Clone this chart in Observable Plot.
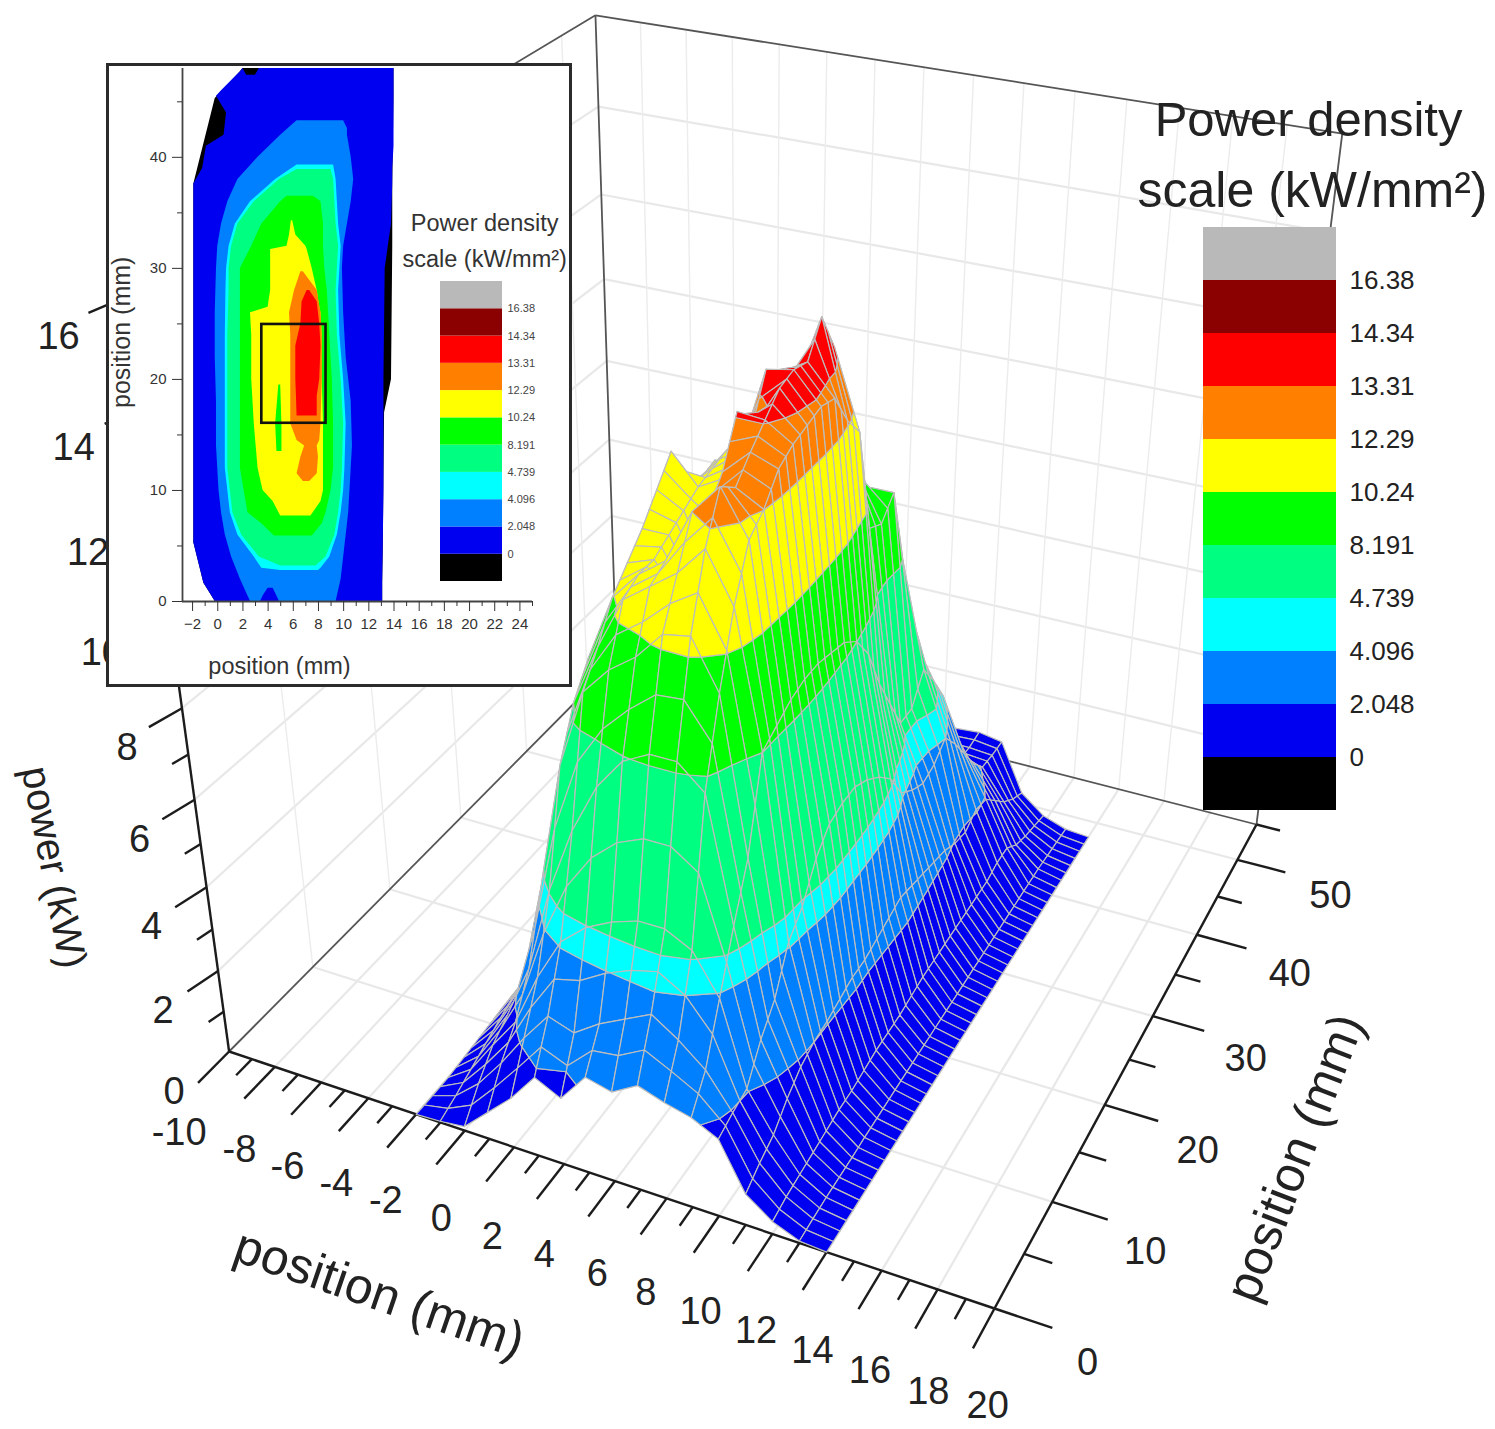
<!DOCTYPE html>
<html><head><meta charset="utf-8">
<script src="https://cdn.jsdelivr.net/npm/d3@7"></script>
<script src="https://cdn.jsdelivr.net/npm/@observablehq/plot@0.6"></script>
<style>
html,body{margin:0;padding:0;background:#fff}
#stage{position:relative;width:1495px;height:1429px;overflow:hidden;font-family:"Liberation Sans",Arial,sans-serif}
#stage svg{position:absolute;background:transparent;font-family:"Liberation Sans",Arial,sans-serif}
#inset{position:absolute;left:106px;top:63px;width:460px;height:618px;border:3px solid #2b2b2b;background:#fff}
</style></head><body><div id="stage"><div id="inset"></div></div>
<script>
// ---------- data ----------
const gridX = [-2,-1,0,1,2,3,4,5,6,7,8,9,10,11,12,13,14];
const gridY = [0,2,4,6,8,10,12,14,16,18,20,22,24,26,28,30,32,34,36,38,40,42,44,46,48];
const power = [
[0,.03,.1,.65,1.2,1.9,1.6,2.3,2.15,2.5,2.3,2.15,1.85,.75,.3,.05,0],
[0,.2,.7,1.4,2.2,2.9,2.7,3.1,3.4,3.7,3.3,2.8,2,1,.4,.08,0],
[0,.4,1.2,1.95,3.2,4.2,4.7,5,5.2,5.2,4.9,4,2.1,1.2,.45,.1,0],
[.05,.6,1.5,2.8,4.8,6.3,7.4,8.1,8.4,8.4,7.9,5.2,2.8,1.6,.5,.1,0],
[.1,.8,1.8,4.3,7.2,8.9,9.5,9.9,10.5,10.6,9.6,6.3,3.3,1.9,.55,.1,0],
[.15,1,1.95,5.2,8.2,9.5,10.6,11,11.4,12,11,8.2,4.2,2.05,.6,.12,0],
[.2,1.05,2.05,5.7,8.8,10.2,10.8,11.2,12.3,12.9,12,8.4,4.6,2.1,.6,.12,0],
[.2,1.1,2.3,6,9,10.6,10.8,10.1,12,12.6,12.3,8.6,5.3,2.2,.65,.13,0],
[.2,1.1,2.4,6.1,9,11,11,10,12.5,13,12.8,8.7,5.7,2.3,.7,.13,0],
[.2,1.1,2.4,6.1,9.1,11.5,11.2,10.1,13.4,13.35,13,8.7,5.8,2.3,.7,.13,0],
[.2,1.1,2.4,6.1,9.1,12,11.4,11.7,12.8,13.7,13.1,8.6,5.8,2.4,.7,.13,0],
[.2,1.1,2.4,6.1,9.1,11,11.5,11.9,13.7,13.8,13.2,8.5,5.6,2.5,.75,.13,0],
[.2,1.1,2.4,6,9,10.9,11.6,11.9,13.4,13.7,13.1,8.2,5.3,2.6,.8,.13,0],
[.2,1.1,2.3,5.9,8.9,11,11,11.8,12.8,14.33,12.4,7.6,4.9,2.5,.8,.13,0],
[.2,1.1,2.2,5.6,8.7,9.6,10.3,11.4,12.4,13.5,11.9,6.6,4.2,2.4,.8,.13,0],
[.2,1,2.1,5,8.2,9.1,10.1,11,11.6,11.3,9.6,5.8,3.9,2.3,.8,.13,0],
[.15,.9,2,4.4,7.3,8.5,9.5,10.1,11,10.4,9.4,5,3.7,2.2,.8,.13,0],
[.1,.7,1.7,3.7,5.7,7.6,8.6,9.5,10.3,9.8,9.8,5,3.8,2,.8,.13,0],
[.05,.5,1.3,2.5,3.9,5.5,7.2,8.2,9,8.7,8,5.6,4.1,1.9,.8,.13,0],
[0,.3,.8,1.7,2.6,3.4,4,5.4,6.5,6.4,6,5,3.6,2.1,.9,.13,0],
[0,.2,.5,1.1,1.7,2,2.6,3.3,4.3,4.4,4.5,4.3,3,2,.9,.13,0],
[0,.1,.3,.7,1.1,1.4,1.7,2.05,2.6,2.7,2.8,2.8,2.4,1.6,.6,.13,0],
[0,0,.1,.3,.7,1.4,1.7,1.9,2,1.95,2,2,1.95,1.2,.45,.1,0],
[0,0,0,.1,.4,1.1,1.5,1.7,1.9,1.9,1.95,1.95,1.9,.9,.35,.08,0],
[0,0,0,0,.2,.8,1.3,1.6,1.8,1.9,1.95,2,1.9,.7,.25,.05,0]
];
const scaleLabels = ["0","2.048","4.096","4.739","8.191","10.24","12.29","13.31","14.34","16.38"];
const scaleLevels = [0,2.048,4.096,4.739,8.191,10.24,12.29,13.31,14.34,16.38];
const scaleColors = ["#000000","#0000f0","#0080ff","#00ffff","#00ff80","#00ff00","#ffff00","#ff8000","#ff0000","#8b0000","#b9b9b9"];
const xMajor = [-10,-8,-6,-4,-2,0,2,4,6,8,10,12,14,16,18,20];
const xMinor = [-9,-7,-5,-3,-1,1,3,5,7,9,11,13,15,17,19];
const yMajor = [0,10,20,30,40,50];
const yMinor = [5,15,25,35,45,55];
const zMajor = [0,2,4,6,8,10,12,14,16];
const zMinor = [1,3,5,7,9,11,13,15];

// inset contour outlines: [position y, left x, right x]
const insetBlack = [[0,-.2,13.1],[1.65,-1.1,13.1],[5.3,-1.9,13.15],[17,-1.9,13.25],[20,-1.9,13.8],[32,-1.9,13.9],[34,-1.9,13.9],[37.6,-1.9,13.9],[45.3,-.2,14],[47.7,1.8,14],[48,2,14]];
const insetBlue = [[0,-.2,13.1],[1.65,-1.1,13.1],[5.3,-1.9,13.15],[10,-1.9,13.2],[20,-1.9,13.2],[30,-1.9,13.3],[34,-1.9,13.8],[37.6,-1.9,13.9],[39,-1.2,13.9],[41,-.9,14],[42,.5,14],[44,.7,14],[45.5,-.1,14],[46,.3,14],[47.7,1.8,14],[48,2,14]];
const insetSpotTop = [[47.4,2.3,3],[48,2,3.3]];
const insetDodger = [[0,2.6,9.4],[2,1.8,9.8],[4,1.1,10],[6,.6,10.2],[8,.3,10.4],[10,.1,10.5],[14,-.1,10.7],[18,-.1,10.6],[22,-.2,10.2],[26,-.2,10],[30,-.1,9.9],[32,0,10],[34,.3,10.3],[36,.8,10.6],[38,1.6,10.8],[40,3.2,10.6],[42,5,10.3],[42.6,5.6,10.3],[43.3,6.3,10]];
const insetNotch = [[0,3.4,4.9],[.5,3.6,4.7],[1.2,4,4.4]];
const insetCyan = [[2.8,5,8],[3,3.5,8.2],[4,2.9,8.9],[6,1.6,9.5],[8,1,9.8],[10,.8,10],[12,.6,10.1],[16,.6,10.2],[20,.6,10],[24,.6,9.7],[28,.65,9.6],[30,.7,9.7],[32,.9,9.8],[34,1.4,9.6],[36,2.6,9.5],[38,4.6,9.4],[39.3,6.3,9.2]];
const insetSpring = [[3.2,5,7.8],[4,3.3,8.6],[6,1.9,9.3],[8,1.2,9.6],[10,1,9.8],[12,.8,9.9],[16,.8,10],[20,.8,9.8],[24,.8,9.5],[28,.9,9.4],[30,.9,9.5],[32,1.1,9.6],[34,1.6,9.4],[36,2.9,9.3],[38,4.9,9.2],[38.9,6.3,9]];
const insetGreen = [[5.9,4.5,7.5],[7,3.5,8.3],[8,2.4,8.6],[10,2.1,9],[12,1.8,9.2],[16,1.8,9.2],[20,1.8,9.1],[24,1.8,8.9],[28,1.8,8.7],[30,1.8,8.5],[32,2.7,8.4],[34,3.5,8.4],[36,5,8.2],[36.5,5.5,7.6]];
const insetYellow = [[7.7,5,7.4],[9,4.4,8.2],[10,3.6,8.4],[12,3.2,8.4],[16,2.9,8.4],[20,2.7,8.3],[24,2.7,8.3],[26,2.6,8.2],[26.5,4,8.1],[28,4.2,7.9],[30,4.2,7.5],[31.7,4.2,7.1],[32,5.5,7],[33,5.7,6.2],[34.3,5.85,5.95]];
const insetSpot = [[13.5,4.7,5.1],[16,4.6,5.1],[19.5,4.85,5]];
const insetOrange = [[10.8,6.8,7.3],[11.5,6.3,7.9],[13,6.6,8],[14,6.9,7.9],[14.5,6.3,8.1],[16,5.8,8.2],[20,5.8,8.3],[24,5.8,8.3],[26,5.7,8.2],[28,6.1,7.9],[29.7,6.6,6.8]];
const insetRed = [[16.7,6.3,7.9],[18.5,6.25,7.9],[20,6.2,8.1],[23,6.2,8.2],[25,6.6,8.1],[27,6.7,7.9],[28,7.1,7.3]];
const insetBox = [{x1:3.5,x2:8.6,y1:16.05,y2:24.95}];
const insetXMajor = [-2,0,2,4,6,8,10,12,14,16,18,20,22,24];
const insetXMinor = [-1,1,3,5,7,9,11,13,15,17,19,21,23,25];
const insetYMajor = [0,10,20,30,40];
const insetYMinor = [5,15,25,35,45];

// ---------- perspective camera of the 3D box ----------
const corner = {A:[228.6,1051],B:[994,1308],C:[1256,824],D:[616,660]};
const cam = (() => {
  const {A,B,C,D} = corner;
  const sx=A[0]-B[0]+C[0]-D[0], sy=A[1]-B[1]+C[1]-D[1];
  const dx1=B[0]-C[0], dx2=D[0]-C[0], dy1=B[1]-C[1], dy2=D[1]-C[1];
  const det=dx1*dy2-dx2*dy1;
  const g=(sx*dy2-dx2*sy)/det, h=(dx1*sy-sx*dy1)/det;
  return {g,h,a:B[0]-A[0]+g*B[0],b:D[0]-A[0]+h*D[0],d:B[1]-A[1]+g*B[1],e:D[1]-A[1]+h*D[1],
          c:-7.76,f:-50.2,i:-0.0103};
})();
function project(x,y,z){
  const u=(x+10)/30, v=y/55, {g,h,a,b,d,e,c,f,i}=cam, {A}=corner;
  const w=g*u+h*v+1+i*z;
  return [(a*u+b*v+A[0]+c*z)/w,(d*u+e*v+A[1]+f*z)/w];
}
function clipAbove(poly,t,sign){
  const out=[];
  for(let k=0;k<poly.length;k++){
    const p=poly[k], q=poly[(k+1)%poly.length];
    const pin=sign*(p[2]-t)>=0, qin=sign*(q[2]-t)>=0;
    if(pin) out.push(p);
    if(pin!==qin){ const s=(t-p[2])/(q[2]-p[2]); out.push([p[0]+s*(q[0]-p[0]),p[1]+s*(q[1]-p[1]),t]); }
  }
  return out;
}
// surface facets, far to near, split at the colour levels; each grid cell carries one extra mesh line across it
const facets=[]; let fid=0;
const bands=scaleLevels.map((lo,k)=>[lo,k<9?scaleLevels[k+1]:99,scaleColors[k+1]]);
const meshStrips=2;
for(let r=gridY.length-2;r>=0;r--){
  for(let m=meshStrips-1;m>=0;m--){
    const t0=m/meshStrips, t1=(m+1)/meshStrips;
    const yAt=t=>gridY[r]+t*(gridY[r+1]-gridY[r]);
    const zAt=(q,t)=>power[r][q]+t*(power[r+1][q]-power[r][q]);
    for(let q=0;q<gridX.length-1;q++){
      const quad=[[gridX[q],yAt(t0),zAt(q,t0)],[gridX[q+1],yAt(t0),zAt(q+1,t0)],
                  [gridX[q+1],yAt(t1),zAt(q+1,t1)],[gridX[q],yAt(t1),zAt(q,t1)]];
      for(const [lo,hi,color] of bands){
        let poly=clipAbove(quad,lo,1);
        if(poly.length>2) poly=clipAbove(poly,hi,-1);
        if(poly.length<3) continue;
        fid++;
        for(const p of poly){ const s=project(p[0],p[1],p[2]); facets.push({id:fid,sx:s[0],sy:s[1],color}); }
      }
    }
  }
}
function seg(a,b){ const p=project(...a), q=project(...b); return {x1:p[0],y1:p[1],x2:q[0],y2:q[1]}; }
const wallGrid=[], floorGrid=[], frame=[], axes=[], ticks=[];
for(const x of xMajor.slice(1,-1).concat([20])){ wallGrid.push(seg([x,55,0],[x,55,16])); floorGrid.push(seg([x,0,0],[x,55,0])); }
for(const y of yMajor.slice(1)){ wallGrid.push(seg([-10,y,0],[-10,y,16])); floorGrid.push(seg([-10,y,0],[20,y,0])); }
for(const z of zMajor.slice(1,-1)){ floorGrid.push(seg([-10,0,z],[-10,55,z])); floorGrid.push(seg([-10,55,z],[20,55,z])); }
frame.push(seg([-10,0,0],[-10,55,0]),seg([-10,55,0],[20,55,0]),seg([-10,55,0],[-10,55,16]),
           seg([-10,0,16],[-10,55,16]),seg([-10,55,16],[20,55,16]),seg([20,55,0],[20,55,16]));
axes.push(seg([-10,0,0],[-10,0,16]),seg([-10,0,0],[20,0,0]),seg([20,0,0],[20,55,0]));
for(const x of xMajor) ticks.push(seg([x,0,0],[x,-3.5,0]));
for(const x of xMinor) ticks.push(seg([x,0,0],[x,-1.8,0]));
for(const y of yMajor) ticks.push(seg([20,y,0],[22,y,0]));
for(const y of yMinor) ticks.push(seg([20,y,0],[21,y,0]));
for(const z of zMajor.slice(1)) ticks.push(seg([-10,0,z],[-10.3,-2.6,z]));
for(const z of zMinor) ticks.push(seg([-10,0,z],[-10.15,-1.3,z]));
const tickText=[];
for(const x of xMajor){ const s=project(x+1.4,-7.7,0); tickText.push({sx:s[0]+(x===-10?-13:x>=0&&x<=6?5:0),sy:Math.min(s[1],1405),label:String(x)}); }
for(const y of yMajor){ const s=project(20,y,0); tickText.push({sx:s[0]+93,sy:s[1]+36+(s[1]-860)*.04,label:String(y)}); }
for(const z of zMajor){ const s=project(-10,0,z); tickText.push({sx:s[0]+(z>8?-67:-55),sy:s[1]+40,label:String(z)}); }
const anchorText=(x,y,z,dx,dy)=>{const s=project(x,y,z);return {sx:s[0]+dx,sy:s[1]+dy};};
const titles=[
  {...anchorText(4,-14,0,-70,-17),label:"position (mm)",rotate:19},
  {...anchorText(27,29,0,-37,80),label:"position (mm)",rotate:-69}
];
const zTitle=[{...anchorText(-10,0,4,-153,-20),label:"power (kW)"}];

// ---------- main 3D picture ----------
const main=Plot.plot({
  width:1495,height:1429,margin:0,
  x:{type:"identity",axis:null},y:{type:"identity",axis:null},color:{type:"identity"},
  marks:[
    Plot.link(floorGrid,{x1:"x1",y1:"y1",x2:"x2",y2:"y2",stroke:"#e8e8e8",strokeWidth:2.2}),
    Plot.link(wallGrid,{x1:"x1",y1:"y1",x2:"x2",y2:"y2",stroke:"#ececec",strokeWidth:1.4}),
    Plot.link(frame,{x1:"x1",y1:"y1",x2:"x2",y2:"y2",stroke:"#555",strokeWidth:1.8}),
    Plot.link(axes,{x1:"x1",y1:"y1",x2:"x2",y2:"y2",stroke:"#1c1c1c",strokeWidth:2.4}),
    Plot.link(ticks,{x1:"x1",y1:"y1",x2:"x2",y2:"y2",stroke:"#1c1c1c",strokeWidth:2.4}),
    Plot.line(facets,{x:"sx",y:"sy",z:"id",fill:"color",stroke:"#bdbdbd",strokeWidth:1.2,curve:"linear-closed"}),
    Plot.text(tickText,{x:"sx",y:"sy",text:"label",fontSize:38,fill:"#222"}),
    Plot.text(titles,{x:"sx",y:"sy",text:"label",rotate:d=>d.rotate,fontSize:50,fill:"#222"}),
    Plot.text(zTitle,{x:"sx",y:"sy",text:"label",rotate:79,fontSize:40,fill:"#222"}),
    Plot.text(["Power density"],{x:()=>1308,y:()=>120,text:d=>d,fontSize:49,fill:"#222"}),
    Plot.text(["scale (kW/mm²)"],{x:()=>1312,y:()=>190,text:d=>d,fontSize:50,fill:"#222"})
  ]
});
main.style.left="0";main.style.top="0";
document.getElementById("stage").prepend(main);

// ---------- colour scale ----------
function scaleBar(left,top,barW,barH,labelW,fontSize,pad,fill){
  const segs=scaleColors.map((color,k)=>({lo:k,hi:k+1,color}));
  const p=Plot.plot({
    width:barW+labelW,height:barH,marginLeft:0,marginRight:labelW,marginTop:0,marginBottom:0,
    x:{domain:[0,1],axis:null},y:{domain:[0,scaleColors.length],axis:null},color:{type:"identity"},
    marks:[
      Plot.rect(segs,{x1:()=>0,x2:()=>1,y1:"lo",y2:"hi",fill:"color"}),
      Plot.axisY({anchor:"right",ticks:scaleLabels.map((_,k)=>k+1),tickFormat:k=>scaleLabels[k-1],
        tickSize:0,tickPadding:pad,label:null,fontSize,color:fill})
    ]
  });
  p.style.left=left+"px";p.style.top=top+"px";
  return p;
}

// ---------- inset contour map ----------
const areaRows=(rows,fill)=>rows.map(([y,l,r])=>({y,l,r,fill}));
const insetArea=(rows,fill)=>Plot.areaX(areaRows(rows,fill),{y:"y",x1:"l",x2:"r",fill:"fill"});
const inset=Plot.plot({
  width:460,height:618,marginLeft:73,marginRight:37,marginTop:2,marginBottom:83,
  x:{domain:[-2.8,25],axis:null},y:{domain:[0,48],axis:null},color:{type:"identity"},
  marks:[
    insetArea(insetBlack,scaleColors[0]),insetArea(insetBlue,scaleColors[1]),insetArea(insetSpotTop,scaleColors[0]),
    insetArea(insetDodger,scaleColors[2]),insetArea(insetNotch,scaleColors[1]),
    insetArea(insetCyan,scaleColors[3]),insetArea(insetSpring,scaleColors[4]),
    insetArea(insetGreen,scaleColors[5]),insetArea(insetYellow,scaleColors[6]),
    insetArea(insetSpot,scaleColors[5]),insetArea(insetOrange,scaleColors[7]),insetArea(insetRed,scaleColors[8]),
    Plot.rect(insetBox,{x1:"x1",x2:"x2",y1:"y1",y2:"y2",stroke:"#111",strokeWidth:2.6,fill:"none"}),
    Plot.ruleY([0],{stroke:"#444",strokeWidth:1.8}),
    Plot.ruleX([-2.8],{stroke:"#444",strokeWidth:1.8}),
    Plot.axisX({ticks:insetXMajor,tickSize:10,tickPadding:7,fontSize:15,label:null,color:"#333"}),
    Plot.axisX({ticks:insetXMinor,tickSize:5,tickFormat:()=>"",label:null,color:"#333"}),
    Plot.axisY({ticks:insetYMajor,tickSize:10,tickPadding:6,fontSize:15,label:null,color:"#333"}),
    Plot.axisY({ticks:insetYMinor,tickSize:5,tickFormat:()=>"",label:null,color:"#333"}),
    Plot.text(["position (mm)"],{frameAnchor:"bottom",dx:-78,dy:72,fontSize:23.5,fill:"#333"}),
    Plot.text(["position (mm)"],{frameAnchor:"left",dx:-61,dy:73,rotate:-90,fontSize:25,fill:"#333"}),
    Plot.text(["Power density"],{x:()=>21.2,y:()=>34.05,text:d=>d,fontSize:23.5,fill:"#333"}),
    Plot.text(["scale (kW/mm²)"],{x:()=>21.2,y:()=>30.8,text:d=>d,fontSize:23.5,fill:"#333"})
  ]
});
inset.style.left="0";inset.style.top="0";
inset.style.overflow="visible";
const insetBox_=document.getElementById("inset");
insetBox_.appendChild(inset);
document.getElementById("stage").appendChild(insetBox_);
insetBox_.appendChild(scaleBar(440-109,281-66,62,300,65,11,5,"#444"));
document.getElementById("stage").appendChild(scaleBar(1203,227,133,583,90,26,13,"#222"));
</script></body></html>
